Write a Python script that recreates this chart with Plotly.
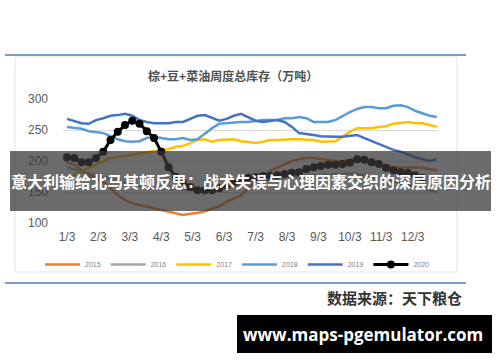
import plotly.graph_objects as go

# ---------------- data (weekly, week 0 = 1/3) ----------------
weeks = list(range(52))
month_labels = ["1/3", "2/3", "3/3", "4/3", "5/3", "6/3", "7/3", "8/3", "9/3", "10/3", "11/3", "12/3"]
y_ticks = [100, 150, 200, 250, 300]

s2015 = [198, 194, 185, 177, 173, 166, 156, 145, 137, 132, 129, 127, 124, 121, 118, 115, 113, 115, 116, 119,
         123, 127, 134, 140, 145, 156, 166, 176, 184, 189, 195, 200, 203, 205, 205, 203, 202, 200, 200, 202,
         202, 198, 197, 194, 192, 190, 189, 190, 190, 189, 187, 185]
s2016 = [190, 187, 183, 180, 176, 173, 170, 167, 165, 162, 160, 158, 157, 156, 155, 154, 153, 152, 152, 153,
         155, 157, 158, 160, 162, 164, 166, 168, 170, 172, 174, 175, 176, 177, 178, 178, 178, 179, 180, 180,
         179, 177, 175, 172, 170, 167, 164, 161, 158, 155, 152, 150]
s2017 = [173, 177, 182, 189, 194, 200, 205, 206, 208, 211, 213, 215, 216, 218, 219, 223, 224, 229, 234, 235,
         231, 234, 235, 235, 232, 231, 229, 231, 234, 234, 235, 235, 235, 235, 234, 231, 231, 232, 239, 247,
         253, 253, 253, 255, 256, 260, 261, 263, 261, 261, 258, 255]
s2018 = [255, 253, 252, 248, 247, 245, 240, 235, 232, 231, 232, 237, 239, 237, 235, 235, 237, 234, 235, 244,
         253, 260, 261, 263, 263, 263, 265, 266, 266, 266, 269, 269, 271, 269, 263, 263, 263, 266, 273, 279,
         284, 287, 287, 285, 285, 289, 290, 287, 281, 277, 273, 271]
s2019 = [268, 265, 261, 260, 266, 269, 273, 274, 276, 273, 266, 263, 261, 261, 261, 263, 263, 268, 273, 274,
         269, 265, 268, 273, 276, 271, 265, 263, 265, 266, 263, 255, 245, 244, 242, 240, 239, 239, 239, 240,
         242, 237, 232, 227, 223, 218, 215, 210, 206, 203, 200, 203]
s2020 = [206, 205, 198, 198, 205, 215, 234, 247, 258, 265, 260, 248, 237, 215, 190, 174, 165, 158, 153, 153,
         153, 156, 160, 165, 169, 173, 174, 176, 176, 177, 179, 181, 182, 187, 190, 192, 194, 194, 195, 197,
         203, 202, 198, 195, 189, 185, 182, 181, 177, 173]

series = [("2015", s2015, "#ED7D31"), ("2016", s2016, "#A5A5A5"), ("2017", s2017, "#FFC000"),
          ("2018", s2018, "#5B9BD5"), ("2019", s2019, "#4472C4")]

title_text = "棕+豆+菜油周度总库存（万吨）"
source_text = "数据来源：天下粮仓"
banner_text = "意大利输给北马其顿反思：战术失误与心理因素交织的深层原因分析"
watermark_text = "www.maps-pgemulator.com"

# ---------------- geometry helpers ----------------
W, H = 500, 362
L, R, T, B = 63, 438, 99, 223


def px(x):
    return (x - L) / (R - L)


def py(y):
    return (B - y) / (B - T)


fig = go.Figure()
for name, vals, col in series:
    fig.add_trace(go.Scatter(x=weeks[:len(vals)], y=vals, mode="lines", name=name,
                             line=dict(color=col, width=2.5)))
fig.add_trace(go.Scatter(x=weeks[:len(s2020)], y=s2020, mode="lines+markers", name="2020",
                         line=dict(color="#000000", width=3),
                         marker=dict(color="#000000", size=8)))

cjk = "Noto Sans CJK SC"
shapes = [
    # top rule
    dict(type="line", xref="paper", yref="paper", x0=px(5), x1=px(466), y0=py(55), y1=py(55),
         line=dict(color="#7F9CC4", width=2)),
    # chart border
    dict(type="rect", xref="paper", yref="paper", x0=px(15), x1=px(457), y0=py(272), y1=py(57),
         line=dict(color="#E3E3E3", width=1), layer="below"),
    # bottom rule
    dict(type="line", xref="paper", yref="paper", x0=px(5), x1=px(466), y0=py(283), y1=py(283),
         line=dict(color="#7F9CC4", width=2)),
    # banner
    dict(type="rect", xref="paper", yref="paper", x0=px(10), x1=px(491), y0=py(211), y1=py(151),
         fillcolor="rgba(55,55,55,0.74)", line=dict(width=0), layer="above"),
    # watermark box
    dict(type="rect", xref="paper", yref="paper", x0=px(237), x1=px(492), y0=py(353), y1=py(315),
         fillcolor="#000000", line=dict(width=0), layer="above"),
]

annotations = [
    dict(text="<b>" + title_text + "</b>", xref="paper", yref="paper", x=px(233), y=py(75), showarrow=False,
         font=dict(family=cjk, size=12, color="#505050"), xanchor="center", yanchor="middle"),
    dict(text="<b>" + source_text + "</b>", xref="paper", yref="paper", x=px(464), y=py(297),
         showarrow=False, font=dict(family=cjk, size=15, color="#333333"),
         xanchor="right", yanchor="middle"),
    dict(text="<b>" + banner_text + "</b>", xref="paper", yref="paper", x=px(250.5), y=py(181),
         showarrow=False, font=dict(family=cjk, size=16, color="#FFFFFF"),
         xanchor="center", yanchor="middle"),
    dict(text="<b>" + watermark_text + "</b>", xref="paper", yref="paper", x=px(363), y=py(334),
         showarrow=False, font=dict(family="Open Sans", size=17, color="#FFFFFF"),
         xanchor="center", yanchor="middle"),
]

fig.update_layout(
    width=W, height=H,
    margin=dict(l=L, r=W - R, t=T, b=H - B, pad=0),
    paper_bgcolor="#FFFFFF", plot_bgcolor="#FFFFFF",
    showlegend=True,
    legend=dict(orientation="h", x=px(40), y=py(250), xanchor="left", yanchor="top",
                font=dict(family="Liberation Sans", size=7, color="#7F7F7F"),
                itemwidth=35, tracegroupgap=0, bgcolor="rgba(0,0,0,0)"),
    xaxis=dict(range=[-0.55, 51.15], tickmode="array",
               tickvals=[m * 52 / 12 for m in range(len(month_labels))], ticktext=month_labels,
               showgrid=False, zeroline=False, showline=False, ticks="", ticklabelstandoff=5,
               tickfont=dict(family="Liberation Sans", size=12, color="#595959")),
    yaxis=dict(range=[100, 300], tickmode="array", tickvals=y_ticks,
               showgrid=True, gridcolor="#D9D9D9", gridwidth=1, zeroline=False, showline=False,
               ticks="", ticklabelstandoff=14,
               tickfont=dict(family="Liberation Sans", size=12, color="#595959")),
    shapes=shapes, annotations=annotations,
)

fig.write_html("out.html")
